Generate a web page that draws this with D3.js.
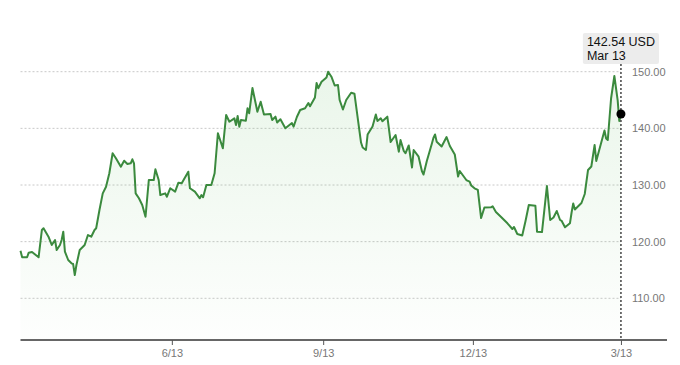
<!DOCTYPE html>
<html>
<head>
<meta charset="utf-8">
<script src="https://cdn.jsdelivr.net/npm/d3@7"></script>
<style>
  html, body { margin: 0; padding: 0; background: #fff; }
  svg { display: block; font-family: "Liberation Sans", Arial, sans-serif; }
</style>
</head>
<body>
<div id="chart"></div>
<script>
const width = 680;
const height = 365;

// closing prices
const dates = [
  '2017-03-13', '2017-03-14', '2017-03-17', '2017-03-18', '2017-03-20', '2017-03-24', '2017-03-26', '2017-03-27',
  '2017-03-30', '2017-04-01', '2017-04-03', '2017-04-04', '2017-04-06', '2017-04-07', '2017-04-08', '2017-04-09',
  '2017-04-11', '2017-04-13', '2017-04-14', '2017-04-15', '2017-04-16', '2017-04-18', '2017-04-21', '2017-04-23',
  '2017-04-25', '2017-04-27', '2017-04-28', '2017-04-30', '2017-05-02', '2017-05-04', '2017-05-06', '2017-05-08',
  '2017-05-10', '2017-05-13', '2017-05-15', '2017-05-17', '2017-05-19', '2017-05-20', '2017-05-21', '2017-05-22',
  '2017-05-24', '2017-05-26', '2017-05-28', '2017-05-30', '2017-06-02', '2017-06-03', '2017-06-05', '2017-06-06',
  '2017-06-09', '2017-06-10', '2017-06-12', '2017-06-15', '2017-06-17', '2017-06-19', '2017-06-23', '2017-06-24',
  '2017-06-27', '2017-06-30', '2017-07-01', '2017-07-02', '2017-07-04', '2017-07-07', '2017-07-09', '2017-07-11',
  '2017-07-14', '2017-07-16', '2017-07-18', '2017-07-21', '2017-07-22', '2017-07-23', '2017-07-24', '2017-07-25',
  '2017-07-28', '2017-07-29', '2017-07-30', '2017-08-01', '2017-08-04', '2017-08-06', '2017-08-08', '2017-08-12',
  '2017-08-13', '2017-08-15', '2017-08-16', '2017-08-18', '2017-08-21', '2017-08-25', '2017-08-26', '2017-08-28',
  '2017-08-30', '2017-09-02', '2017-09-04', '2017-09-05', '2017-09-08', '2017-09-09', '2017-09-10', '2017-09-12',
  '2017-09-15', '2017-09-16', '2017-09-18', '2017-09-20', '2017-09-22', '2017-09-23', '2017-09-25', '2017-09-27',
  '2017-09-30', '2017-10-02', '2017-10-06', '2017-10-07', '2017-10-09', '2017-10-10', '2017-10-13', '2017-10-15',
  '2017-10-16', '2017-10-18', '2017-10-19', '2017-10-22', '2017-10-24', '2017-10-27', '2017-10-29', '2017-10-30',
  '2017-11-01', '2017-11-02', '2017-11-04', '2017-11-06', '2017-11-07', '2017-11-10', '2017-11-12', '2017-11-13',
  '2017-11-15', '2017-11-18', '2017-11-19', '2017-11-20', '2017-11-21', '2017-11-24', '2017-11-27', '2017-11-29',
  '2017-12-02', '2017-12-04', '2017-12-05', '2017-12-09', '2017-12-11', '2017-12-12', '2017-12-14', '2017-12-16',
  '2017-12-18', '2017-12-20', '2017-12-24', '2017-12-25', '2017-12-27', '2017-12-30', '2018-01-01', '2018-01-03',
  '2018-01-06', '2018-01-07', '2018-01-09', '2018-01-12', '2018-01-14', '2018-01-16', '2018-01-20', '2018-01-21',
  '2018-01-24', '2018-01-27', '2018-01-29', '2018-01-31', '2018-02-02', '2018-02-04', '2018-02-05', '2018-02-07',
  '2018-02-10', '2018-02-11', '2018-02-12', '2018-02-13', '2018-02-17', '2018-02-19', '2018-02-21', '2018-02-23',
  '2018-02-25', '2018-02-26', '2018-03-03', '2018-03-04', '2018-03-05', '2018-03-07', '2018-03-09', '2018-03-11',
  '2018-03-12', '2018-03-13',
];
const closes = [
  118.40, 117.24, 117.24, 118.05, 118.17, 117.24, 122.06, 122.36,
  120.87, 119.41, 120.29, 118.53, 119.41, 120.29, 121.76, 118.23,
  116.76, 116.18, 116.05, 114.11, 115.88, 118.53, 119.41, 121.17,
  120.87, 122.06, 122.36, 125.59, 128.53, 129.70, 132.07, 135.60,
  134.71, 133.23, 134.29, 133.71, 133.83, 134.54, 133.83, 128.53,
  127.65, 126.47, 124.40, 130.88, 130.88, 132.77, 130.88, 128.23,
  128.53, 127.93, 129.42, 128.82, 130.41, 130.30, 132.35, 129.42,
  128.82, 127.65, 128.23, 127.83, 130.00, 130.00, 132.07, 139.13,
  136.48, 142.36, 141.17, 141.77, 140.59, 142.18, 140.29, 141.47,
  141.35, 143.54, 142.66, 147.12, 142.94, 144.70, 142.44, 142.53,
  141.47, 142.06, 141.03, 141.60, 140.01, 140.94, 140.29, 142.00,
  143.24, 143.54, 144.47, 143.89, 145.45, 148.01, 147.07, 148.23,
  148.98, 150.00, 149.12, 147.56, 147.65, 145.00, 143.33, 145.00,
  146.29, 146.12, 137.50, 136.62, 136.18, 138.91, 140.33, 142.44,
  141.30, 141.77, 141.26, 142.06, 137.59, 138.83, 135.88, 137.94,
  136.00, 135.60, 136.97, 133.09, 136.18, 135.00, 132.47, 131.85,
  134.24, 137.24, 138.30, 138.91, 137.64, 136.80, 138.47, 136.88,
  135.38, 131.50, 132.47, 130.88, 130.58, 129.91, 129.42, 129.12,
  124.17, 126.03, 126.06, 126.24, 125.23, 124.40, 123.82, 123.24,
  122.23, 122.59, 121.35, 121.09, 123.65, 126.47, 126.33, 121.76,
  121.70, 129.82, 123.82, 124.26, 125.41, 123.82, 123.65, 122.53,
  123.24, 125.15, 126.73, 125.68, 126.82, 128.41, 132.65, 133.27,
  137.06, 134.24, 139.62, 138.21, 137.94, 145.27, 149.24, 145.00,
  141.30, 142.54,
];
const yTicks = [110, 120, 130, 140, 150];
const xTicks = ['2017-06-13', '2017-09-13', '2017-12-13', '2018-03-13'];
const xEnd = '2018-04-10';
const currency = 'USD';

const plot = { left: 20.5, right: 667, bottom: 340 };
const lineColor = '#3b8a3e';

const parse = d3.utcParse('%Y-%m-%d');
const data = dates.map((d, i) => ({ date: parse(d), value: closes[i] }));
const last = data[data.length - 1];

const x = d3.scaleUtc()
  .domain([data[0].date, parse(xEnd)])
  .range([plot.left, plot.right]);
const y = d3.scaleLinear()
  .domain([110, 150])
  .range([298.3, 71.7]);
const yBase = y.invert(plot.bottom);

const svg = d3.select('#chart')
  .append('svg')
  .attr('width', width)
  .attr('height', height);

const grad = svg.append('defs')
  .append('linearGradient')
    .attr('id', 'fade')
    .attr('gradientUnits', 'userSpaceOnUse')
    .attr('x1', 0).attr('x2', 0)
    .attr('y1', y(150)).attr('y2', plot.bottom);
grad.append('stop').attr('offset', 0).attr('stop-color', '#5cb85c').attr('stop-opacity', 0.13);
grad.append('stop').attr('offset', 1).attr('stop-color', '#5cb85c').attr('stop-opacity', 0.01);

// horizontal grid + right labels
const grid = svg.append('g');
grid.selectAll('line')
  .data(yTicks)
  .join('line')
    .attr('x1', plot.left)
    .attr('x2', x(last.date))
    .attr('y1', d => y(d))
    .attr('y2', d => y(d))
    .attr('stroke', '#c8c8c8')
    .attr('stroke-dasharray', '2,2');
grid.selectAll('text')
  .data(yTicks)
  .join('text')
    .attr('x', x(last.date) + 11)
    .attr('y', d => y(d))
    .attr('dy', '0.35em')
    .attr('fill', '#777')
    .style('font-size', '11px')
    .text(d3.format('.2f'));

svg.append('path')
  .datum(data)
  .attr('fill', 'url(#fade)')
  .attr('d', d3.area()
    .x(d => x(d.date))
    .y0(y(yBase))
    .y1(d => y(d.value)));

svg.append('path')
  .datum(data)
  .attr('fill', 'none')
  .attr('stroke', lineColor)
  .attr('stroke-width', 2)
  .attr('stroke-linejoin', 'round')
  .attr('d', d3.line()
    .x(d => x(d.date))
    .y(d => y(d.value)));

// x axis
const xAxis = d3.axisBottom(x)
  .tickValues(xTicks.map(parse))
  .tickSize(5)
  .tickPadding(4)
  .tickFormat(d3.utcFormat('%-m/%-d'));
svg.append('g')
  .attr('transform', `translate(0, ${plot.bottom})`)
  .call(xAxis)
  .call(g => {
    g.select('.domain')
      .attr('stroke', '#666')
      .attr('stroke-width', 2)
      .attr('d', `M${plot.left},0H${plot.right}`);
    g.selectAll('.tick line').attr('stroke', '#555');
    g.selectAll('.tick text')
      .attr('fill', '#777')
      .style('font-family', '"Liberation Sans", Arial, sans-serif')
      .style('font-size', '11px');
  });

// marker for the latest close
const lx = x(last.date);
const tipTop = 33;
const tipH = 31;
svg.append('line')
  .attr('x1', lx).attr('x2', lx)
  .attr('y1', tipTop + tipH).attr('y2', plot.bottom)
  .attr('stroke', '#444')
  .attr('stroke-width', 1.5)
  .attr('stroke-dasharray', '2,2');

svg.append('circle')
  .attr('cx', lx)
  .attr('cy', y(last.value))
  .attr('r', 4.5)
  .attr('fill', '#000');

const tip = svg.append('g');
const tipRect = tip.append('rect')
  .attr('fill', '#ececec')
  .attr('rx', 2);
const tipText = tip.append('text')
  .attr('fill', '#111')
  .style('font-size', '12.5px');
tipText.append('tspan')
  .attr('x', 0)
  .attr('y', 46)
  .text(`${d3.format('.2f')(last.value)} ${currency}`);
tipText.append('tspan')
  .attr('x', 0)
  .attr('y', 59.5)
  .text(d3.utcFormat('%b %-d')(last.date));
const tw = tipText.node().getBBox().width + 8;
tipText.selectAll('tspan').attr('x', lx - tw / 2 + 4);
tipRect
  .attr('x', lx - tw / 2)
  .attr('y', tipTop)
  .attr('width', tw)
  .attr('height', tipH);
</script>
</body>
</html>
